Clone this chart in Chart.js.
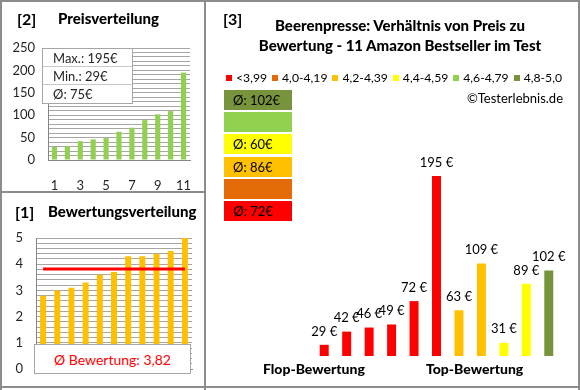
<!DOCTYPE html>
<html>
<head>
<meta charset="utf-8">
<script src="https://cdn.jsdelivr.net/npm/chart.js@4.4.0/dist/chart.umd.min.js"></script>
<style>
body { margin: 0; background: #fff; font-family: Lato, sans-serif; color: #000; }
#rahmen { position: relative; width: 580px; height: 390px; overflow: hidden; background: #fff; }
.abs { position: absolute; white-space: nowrap; }
canvas { position: absolute; }
.linie { position: absolute; background: #8c8c8c; }
.nr { font-weight: bold; font-size: 16px; }
.titel { font-weight: 900; font-size: 15px; }
#stats { left: 42px; top: 48px; width: 89px; height: 54px; background: #fff; border: 1px solid #a6a6a6; font-size: 13px; color: #262626; }
#stats div { height: 17px; line-height: 18px; padding-left: 10px; border-bottom: 1px solid #c8c8c8; }
#stats div:last-child { border-bottom: none; }
#schnitt { left: 34px; top: 344px; width: 155px; height: 28px; background: #fff; border: 1px solid #a6a6a6; color: #ff0000; font-size: 14px; text-align: center; line-height: 29px; }
#legende { left: 226px; top: 70px; display: flex; font-size: 12.2px; line-height: 16px; }
#legende span.q { display: inline-block; width: 6px; height: 6px; margin: 5px 4px 0 0; }
#legende .item { display: flex; margin-right: 5px; }
.gruppe { position: absolute; left: 224px; width: 68px; height: 20px; line-height: 20px; font-size: 13px; padding-left: 9px; box-sizing: border-box; }
</style>
</head>
<body>
<div id="rahmen">
  <canvas id="preisChart" width="205" height="192" style="left:0;top:0"></canvas>
  <canvas id="bewertungChart" width="205" height="198" style="left:0;top:192px"></canvas>
  <canvas id="hauptChart" width="374" height="390" style="left:206px;top:0"></canvas>

  <div class="linie" style="left:0;top:0;width:580px;height:2px"></div>
  <div class="linie" style="left:0;top:0;width:2px;height:390px"></div>
  <div class="linie" style="left:578px;top:0;width:2px;height:390px"></div>
  <div class="linie" style="left:0;top:386px;width:580px;height:2px"></div>
  <div class="linie" style="left:204px;top:0;width:2px;height:390px"></div>
  <div class="linie" style="left:0;top:191px;width:205px;height:2px"></div>

  <div class="abs nr" style="left:17px;top:9px">[2]</div>
  <div class="abs titel" style="left:58px;top:9px">Preisverteilung</div>
  <div class="abs" id="stats"></div>

  <div class="abs nr" style="left:15px;top:202px">[1]</div>
  <div class="abs titel" style="left:48px;top:202px">Bewertungsverteilung</div>
  <div class="abs" id="schnitt"></div>

  <div class="abs nr" style="left:223px;top:9px">[3]</div>
  <div class="abs titel" style="left:206px;width:388px;top:15px;text-align:center;line-height:20px">Beerenpresse: Verhältnis von Preis zu<br>Bewertung - 11 Amazon Bestseller im Test</div>
  <div class="abs" id="legende"></div>
  <div class="abs" style="right:17px;top:90px;font-size:13px">©Testerlebnis.de</div>
  <div id="gruppen"></div>
  <div class="abs titel" style="left:263px;top:360px;font-size:14px">Flop-Bewertung</div>
  <div class="abs titel" style="left:426px;top:360px;font-size:14px">Top-Bewertung</div>
</div>

<script>
const platzLabels = ['1', '2', '3', '4', '5', '6', '7', '8', '9', '10', '11'];
const preiseSortiert = [29, 31, 42, 46, 49, 63, 72, 89, 102, 109, 195];
const bewertungen = [2.8, 3.0, 3.1, 3.3, 3.6, 3.7, 4.3, 4.3, 4.4, 4.5, 5.0];
const preiseNachBewertung = [29, 42, 46, 49, 72, 195, 63, 109, 31, 89, 102];
const klassenLabels = ['<3,99', '4,0-4,19', '4,2-4,39', '4,4-4,59', '4,6-4,79', '4,8-5,0'];
const klassenGrenzen = [3.995, 4.195, 4.395, 4.595, 4.795, 5.0];

const klassenFarben = ['#ff0000', '#e36c09', '#ffc000', '#ffff00', '#92d050', '#77933c'];
const gitterFarbe = '#a6a6a6';
const achsenFarbe = '#868686';
const textFarbe = '#262626';

Chart.defaults.font.family = 'Lato';
Chart.defaults.font.size = 13;
Chart.defaults.color = textFarbe;
Chart.defaults.plugins.legend.display = false;
Chart.defaults.plugins.tooltip.enabled = false;
Chart.defaults.animation = false;

function klasse(b) {
  for (let i = 0; i < klassenGrenzen.length; i++) {
    if (b <= klassenGrenzen[i]) return i;
  }
  return klassenGrenzen.length - 1;
}

const summe = (arr) => arr.reduce((a, b) => a + b, 0);

// Statistik-Kasten
const maxPreis = Math.max(...preiseSortiert);
const minPreis = Math.min(...preiseSortiert);
const avgPreis = summe(preiseSortiert) / preiseSortiert.length;
document.getElementById('stats').innerHTML =
  `<div>Max.: ${maxPreis}€</div><div>Min.: ${minPreis}€</div><div>Ø: ${Math.round(avgPreis)}€</div>`;

const avgBewertung = summe(bewertungen) / bewertungen.length;
document.getElementById('schnitt').textContent =
  'Ø Bewertung: ' + avgBewertung.toFixed(2).replace('.', ',');

// Legende
const legende = document.getElementById('legende');
klassenLabels.forEach((l, i) => {
  legende.innerHTML += `<div class="item"><span class="q" style="background:${klassenFarben[i]}"></span>${l}</div>`;
});

// Gruppen-Durchschnitte
const gruppen = document.getElementById('gruppen');
klassenLabels.forEach((l, k) => {
  const preise = preiseNachBewertung.filter((p, i) => klasse(bewertungen[i]) === k);
  const text = preise.length ? 'Ø: ' + Math.round(summe(preise) / preise.length) + '€' : '';
  const top = 90 + (klassenLabels.length - 1 - k) * 22.2;
  gruppen.innerHTML += `<div class="gruppe" style="top:${top}px;background:${klassenFarben[k]}">${text}</div>`;
});

// [2] Preisverteilung
new Chart(document.getElementById('preisChart'), {
  type: 'bar',
  data: {
    labels: platzLabels,
    datasets: [{
      data: preiseSortiert,
      backgroundColor: '#92d050',
      barPercentage: 0.4,
      categoryPercentage: 1,
    }],
  },
  options: {
    responsive: false,
    devicePixelRatio: 1,
    layout: { padding: { left: 0, top: 48, right: 15, bottom: 0 } },
    scales: {
      x: {
        grid: { display: false },
        border: { color: achsenFarbe },
        ticks: {
          autoSkip: false,
          maxRotation: 0,
          padding: 10,
          callback: function (v, i) { return i % 2 === 0 ? this.getLabelForValue(v) : ''; },
        },
        afterFit: (s) => { s.height = 32; },
      },
      y: {
        min: 0,
        max: 250,
        grid: { color: gitterFarbe, drawTicks: false },
        border: { color: achsenFarbe },
        ticks: {
          stepSize: 10,
          maxTicksLimit: 60,
          autoSkip: false,
          padding: 13,
          callback: (v) => (v % 50 === 0 ? v : ''),
        },
        afterFit: (s) => { s.width = 48; },
      },
    },
  },
});

// [1] Bewertungsverteilung
new Chart(document.getElementById('bewertungChart'), {
  type: 'bar',
  data: {
    labels: platzLabels,
    datasets: [
      {
        type: 'line',
        data: bewertungen.map(() => avgBewertung),
        borderColor: '#ff0000',
        borderWidth: 3,
        pointRadius: 0,
        order: 0,
      },
      {
        data: bewertungen,
        backgroundColor: '#ffc000',
        barPercentage: 0.42,
        categoryPercentage: 1,
        order: 1,
      },
    ],
  },
  options: {
    responsive: false,
    devicePixelRatio: 1,
    layout: { padding: { left: 0, top: 46, right: 13, bottom: 0 } },
    scales: {
      x: {
        grid: { display: false },
        border: { color: achsenFarbe },
        ticks: { display: false },
        afterFit: (s) => { s.height = 15; },
      },
      y: {
        min: 0,
        max: 5,
        grid: { color: gitterFarbe, drawTicks: false },
        border: { color: achsenFarbe },
        ticks: {
          stepSize: 0.2,
          maxTicksLimit: 60,
          autoSkip: false,
          padding: 13,
          callback: (v) => (Math.abs(v - Math.round(v)) < 1e-6 ? Math.round(v) : ''),
        },
        afterFit: (s) => { s.width = 36; },
      },
    },
  },
});

// [3] Preis nach Bewertung
const preisLabels = {
  id: 'preisLabels',
  afterDatasetsDraw(chart) {
    const ctx = chart.ctx;
    ctx.save();
    ctx.font = '13px Lato';
    ctx.fillStyle = '#000';
    ctx.textAlign = 'center';
    ctx.textBaseline = 'middle';
    chart.getDatasetMeta(0).data.forEach((bar, i) => {
      ctx.fillText(preiseNachBewertung[i] + ' €', bar.x, bar.y - 13.5);
    });
    ctx.restore();
  },
};

new Chart(document.getElementById('hauptChart'), {
  type: 'bar',
  data: {
    labels: platzLabels,
    datasets: [{
      data: preiseNachBewertung,
      backgroundColor: bewertungen.map((b) => klassenFarben[klasse(b)]),
      barPercentage: 0.4,
      categoryPercentage: 1,
    }],
  },
  options: {
    responsive: false,
    devicePixelRatio: 1,
    layout: { padding: { left: 107, top: 171, right: 20, bottom: 34 } },
    scales: {
      x: { display: false },
      y: { display: false, min: 18, max: 200 },
    },
  },
  plugins: [preisLabels],
});
</script>
</body>
</html>
